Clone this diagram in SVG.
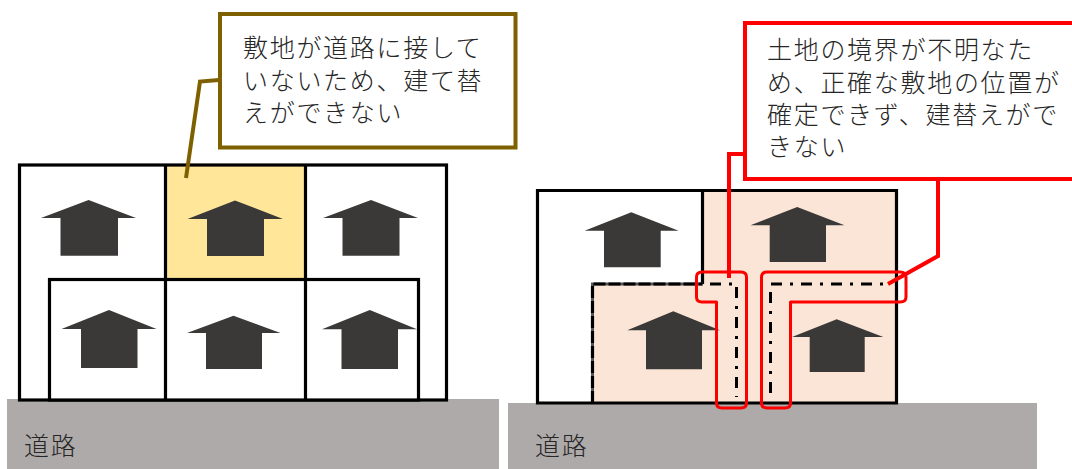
<svg xmlns="http://www.w3.org/2000/svg" width="1072" height="469" viewBox="0 0 1072 469">
<style>
.road{fill:#AEAAAA}
.lot{fill:none;stroke:#000;stroke-width:3.200}
.house{fill:#3B3838}
.dd{fill:none;stroke:#000;stroke-width:3;stroke-dasharray:11 8 3 8}
.under{fill:none;stroke:#555;stroke-width:3}
.zone{fill:none;stroke:#F00;stroke-width:3;stroke-linejoin:round}
.lead{fill:none;stroke-width:4;stroke-linejoin:miter}
.t{font-family:"Noto Sans CJK JP","Noto Sans CJK SC",serif;font-size:25px;font-weight:300;letter-spacing:1.700px;fill:#262626}
</style>
<rect width="1072" height="469" fill="#fff"/>
<g id="road-left"><rect class="road" x="7" y="399" width="492" height="70"/><text class="t" x="24" y="455">道路</text></g>
<g id="road-right"><rect class="road" x="508" y="403" width="529" height="66"/><text class="t" x="535" y="455">道路</text></g>

<g id="lots-left">
<rect x="165.500" y="165" width="140" height="114.500" fill="#FFE699"/>
<rect class="lot" x="19.500" y="165" width="427" height="235"/>
<path class="lot" d="M165.500 165V280M305.500 165V280"/>
<rect x="49.500" y="279.500" width="369" height="120.500" fill="#fff" stroke="#000" stroke-width="3.200"/>
<path class="lot" d="M165.500 279.500V400M305.500 279.500V400"/>
</g>

<g id="lots-right">
<path d="M702.500 190.500H896.500V403H592.500V284H702.500Z" fill="#FBE5D6"/>
<path class="lot" d="M537.500 190.500H896.500V403H537.500Z"/>
<path class="lot" d="M702.500 190.500V284"/>
<path class="under" d="M592.500 403V284H702.500"/>
<path class="lot" d="M592.500 403V284H702.500" stroke-dasharray="12 3"/>
<path class="dd" d="M710 284H733"/>
<path class="dd" d="M736.500 287V397"/>
<path class="dd" d="M770.500 292V400"/>
<path class="dd" d="M771 284H889"/>
</g>

<g id="houses-left">
<polygon class="house" points="88.600,200 136,218 118,218 118,255.700 60.500,255.700 60.500,218 41,218"/>
<polygon class="house" points="235,200.500 283,219 264,219 264,256 207,256 207,219 187.500,219"/>
<polygon class="house" points="371,200 418,218 399.500,218 399.500,255.700 342.500,255.700 342.500,218 323,218"/>
<polygon class="house" points="109,310 156.500,329 137.500,329 137.500,368 81,368 81,329 61.500,329"/>
<polygon class="house" points="233.500,315.700 280.500,333 262,333 262,369 206,369 206,333 187,333"/>
<polygon class="house" points="369.800,310 417,329.300 398,329.300 398,369 341.500,369 341.500,329.300 322,329.300"/>
</g>

<g id="houses-right">
<polygon class="house" points="631.300,212.300 678.600,230.700 660.700,230.700 660.700,267.300 604,267.300 604,230.700 584.600,230.700"/>
<polygon class="house" points="797.200,207 844.500,225.300 826,225.300 826,262 769.700,262 769.700,225.300 750.500,225.300"/>
<polygon class="house" points="673.300,311.300 720,330.300 702,330.300 702,369.300 646,369.300 646,330.300 627.300,330.300"/>
<polygon class="house" points="836.700,319.300 883.300,337 864.700,337 864.700,372 809.700,372 809.700,337 792,337"/>
</g>

<g id="zones">
<path class="zone" d="M702 272H741Q746.500 272 746.500 277V403Q746.500 408 741 408H722Q716.500 408 716.500 403V302H702Q696.500 302 696.500 297V277Q696.500 272 702 272Z"/>
<path class="zone" d="M767 272H900Q906 272 906 277V297Q906 302 900 302H790.500V403Q790.500 408 785 408H767Q761.500 408 761.500 403V277Q761.500 272 767 272Z"/>
</g>

<g id="connectors">
<path class="lead" stroke="#7F6000" d="M219 80L200 81.500L186 178"/>
<path class="lead" stroke="#F00" d="M745 154H729V278"/>
<path class="lead" stroke="#F00" d="M938 178V256L888 284"/>
</g>

<g id="callout-left">
<rect x="220" y="14" width="295.500" height="133.500" fill="#fff" stroke="#7F6000" stroke-width="4"/>
<text class="t" x="243" y="57">敷地が道路に接して</text>
<text class="t" x="243" y="90">いないため、建て替</text>
<text class="t" x="243" y="122">えができない</text>
</g>
<g id="callout-right">
<rect x="745" y="23" width="340" height="156" fill="#fff" stroke="#F00" stroke-width="4"/>
<text class="t" x="767" y="59">土地の境界が不明なた</text>
<text class="t" x="767" y="92">め、正確な敷地の位置が</text>
<text class="t" x="767" y="124">確定できず、建替えがで</text>
<text class="t" x="767" y="156">きない</text>
</g>
</svg>
